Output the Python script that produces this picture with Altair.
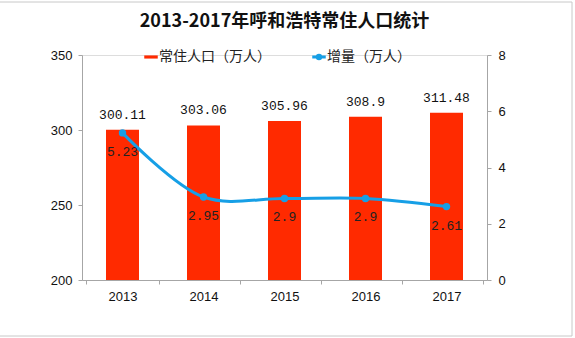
import altair as alt
import pandas as pd

years = ["2013", "2014", "2015", "2016", "2017"]
population = [300.11, 303.06, 305.96, 308.9, 311.48]
increase = [5.23, 2.95, 2.9, 2.9, 2.61]
bar_name = "常住人口（万人）"
line_name = "增量（万人）"
title_text = "2013-2017年呼和浩特常住人口统计"

df = pd.DataFrame({
    "year": years,
    "pop": population,
    "inc": increase,
    "s1": [bar_name] * len(years),
    "s2": [line_name] * len(years),
})
df["pop_label"] = [f"{v:g}" for v in population]
df["inc_label"] = [f"{v:g}" for v in increase]

RED = "#ff2a00"
BLUE = "#169fe6"
AX = "#a6a6a6"
NUMFONT = "Liberation Mono"
CJK = "Noto Sans CJK SC"

x = alt.X("year:N", sort=years, title=None,
          axis=alt.Axis(labelAngle=0, tickBand="extent", labelOverlap=False,
                        labelFont="Liberation Sans",
                        labelFontSize=13, labelColor="#111", domainColor=AX,
                        tickColor=AX, tickSize=4, labelPadding=6))

y_left = alt.Y("pop:Q", title=None,
               scale=alt.Scale(domain=[200, 350], zero=False, nice=False),
               axis=alt.Axis(values=[200, 250, 300, 350], labelFont="Liberation Sans",
                             labelFontSize=13, labelColor="#111", domainColor=AX,
                             tickColor=AX, tickSize=4, labelPadding=6, grid=False))

y_right = alt.Y("inc:Q", title=None,
                scale=alt.Scale(domain=[0, 8], nice=False),
                axis=alt.Axis(orient="right", values=[0, 2, 4, 6, 8],
                              labelFont="Liberation Sans", labelFontSize=13,
                              labelColor="#111", domainColor=AX, tickColor=AX,
                              tickSize=4, labelPadding=7, grid=False))

base = alt.Chart(df)

bars = base.mark_bar(size=33).encode(
    x=x,
    y=y_left,
    y2=alt.datum(200),
    fill=alt.Fill("s1:N", scale=alt.Scale(domain=[bar_name], range=[RED]),
                  legend=alt.Legend(title=None, orient="none", legendX=62, legendY=-5,
                                    symbolType="M-1.5,-0.35H1.5V0.35H-1.5Z",
                                    symbolSize=81, symbolStrokeWidth=0,
                                    labelFont=CJK, labelFontSize=14, labelColor="#222",
                                    labelOffset=1)),
)

bar_labels = base.mark_text(dy=-15, font=NUMFONT, fontSize=13, color="#111").encode(
    x=alt.X("year:N", sort=years),
    y=alt.Y("pop:Q", scale=alt.Scale(domain=[200, 350], zero=False, nice=False)),
    text="pop_label:N",
)

left = alt.layer(bars, bar_labels)

line = base.mark_line(interpolate="catmull-rom", strokeWidth=3).encode(
    x=alt.X("year:N", sort=years),
    y=y_right,
    stroke=alt.Stroke("s2:N", scale=alt.Scale(domain=[line_name], range=[BLUE]),
                      legend=alt.Legend(title=None, orient="none", legendX=230, legendY=-5,
                                        symbolType="M-1.5,0H1.5M0.38,0A0.38,0.38,0,1,1,-0.38,0A0.38,0.38,0,1,1,0.38,0",
                                        symbolSize=81, symbolStrokeWidth=3,
                                        symbolFillColor=BLUE,
                                        labelFont=CJK, labelFontSize=14, labelColor="#222",
                                        labelOffset=1)),
)

points = base.mark_circle(size=55, color=BLUE, opacity=1).encode(
    x=alt.X("year:N", sort=years),
    y=alt.Y("inc:Q", scale=alt.Scale(domain=[0, 8], nice=False)),
)

line_labels = base.mark_text(dy=19, font=NUMFONT, fontSize=13, color="#222").encode(
    x=alt.X("year:N", sort=years),
    y=alt.Y("inc:Q", scale=alt.Scale(domain=[0, 8], nice=False)),
    text="inc_label:N",
)

right = alt.layer(line, points, line_labels)

frame = alt.Chart(pd.DataFrame({"a": [0]})).mark_rect(
    fill=None, stroke="#c8c8c8", strokeWidth=1
).encode(
    x=alt.value(-90), x2=alt.value(490), y=alt.value(-53), y2=alt.value(281)
)

chart = alt.layer(left, right, frame).resolve_scale(y="independent").properties(
    width=405,
    height=225,
    title=alt.TitleParams(title_text, font=CJK, fontSize=18, fontWeight="bold",
                          color="#111", anchor="middle", frame="group", offset=-29),
    autosize=alt.AutoSizeParams(type="none"),
    padding={"left": 82, "top": 55, "right": 88, "bottom": 58},
).configure_view(stroke=None).configure(background="white")

chart.save("out.html", embed_options={"renderer": "svg", "actions": False})
